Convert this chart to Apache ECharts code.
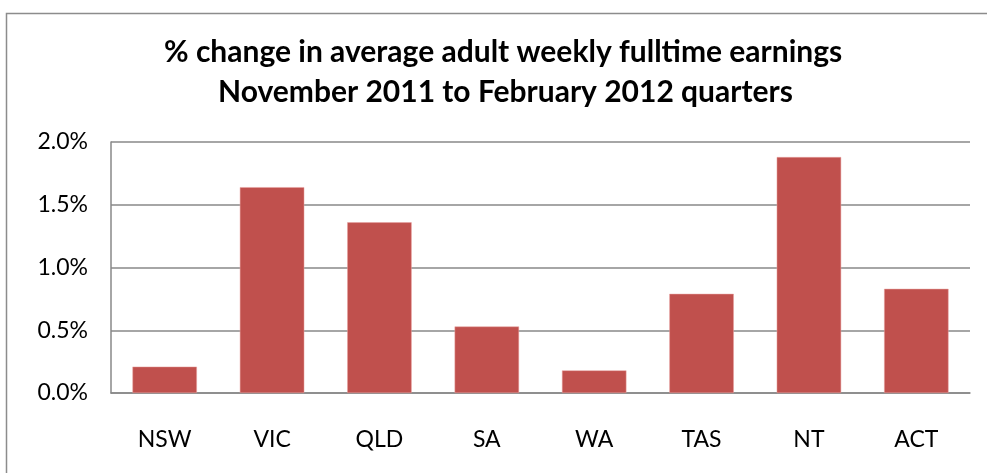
<!DOCTYPE html>
<html>
<head>
<meta charset="utf-8">
<title>% change in average adult weekly fulltime earnings</title>
<script src="https://cdn.jsdelivr.net/npm/echarts@6/dist/echarts.min.js"></script>
<style>
  html, body { margin: 0; padding: 0; background: #fff; }
  #chart { width: 987px; height: 473px; }
</style>
</head>
<body>
<div id="chart"></div>
<script>
// states / territories
const states = ['NSW', 'VIC', 'QLD', 'SA', 'WA', 'TAS', 'NT', 'ACT']
// % change, Nov 2011 -> Feb 2012
const pctChange = [0.21, 1.64, 1.36, 0.53, 0.18, 0.79, 1.88, 0.83]
// y axis ticks
const yTicks = [0, 0.5, 1.0, 1.5, 2.0]

const titleLines = [
  '% change in average adult weekly fulltime earnings',
  'November 2011 to February 2012 quarters'
]
const font = 'Lato, "Open Sans", sans-serif'
const gridColor = '#888888'

const titleStyle = {
  fontFamily: font,
  fontWeight: 'bold',
  fontSize: 30,
  lineHeight: 40,
  color: '#000'
}

const chart = echarts.init(document.getElementById('chart'))

chart.setOption({
  animation: false,
  textStyle: { fontFamily: font },
  // chart frame
  graphic: [{
    type: 'rect',
    shape: { x: 6.5, y: 13.5, width: 1200, height: 600 },
    style: { fill: 'none', stroke: '#8c8c8c', lineWidth: 1.5 },
    silent: true
  }],
  // two title lines, placed separately (the original is a bit right of centre)
  title: [
    { text: titleLines[0], left: 159, top: 27, textStyle: titleStyle },
    { text: titleLines[1], left: 213, top: 67, textStyle: titleStyle }
  ],
  grid: {
    left: 111,
    right: 17,
    top: 142,
    bottom: 80,
    containLabel: false
  },
  xAxis: {
    type: 'category',
    data: states,
    axisLine: { lineStyle: { color: gridColor, width: 1.5 } },
    axisTick: { show: false },
    axisLabel: { color: '#000', fontSize: 23, margin: 35, fontFamily: font }
  },
  yAxis: {
    type: 'value',
    min: yTicks[0],
    max: yTicks[yTicks.length - 1],
    interval: 0.5,
    axisLine: { show: true, lineStyle: { color: gridColor, width: 1.5 } },
    axisTick: { show: false },
    splitLine: { lineStyle: { color: gridColor, width: 1.5 } },
    axisLabel: {
      color: '#000',
      fontSize: 23,
      margin: 23,
      fontFamily: font,
      formatter: v => v.toFixed(1) + '%'
    }
  },
  series: [{
    type: 'bar',
    data: pctChange,
    barCategoryGap: '40%',
    itemStyle: { color: '#C0504D', borderColor: '#e8a3a1', borderWidth: 0.5 }
  }]
})
</script>
</body>
</html>
